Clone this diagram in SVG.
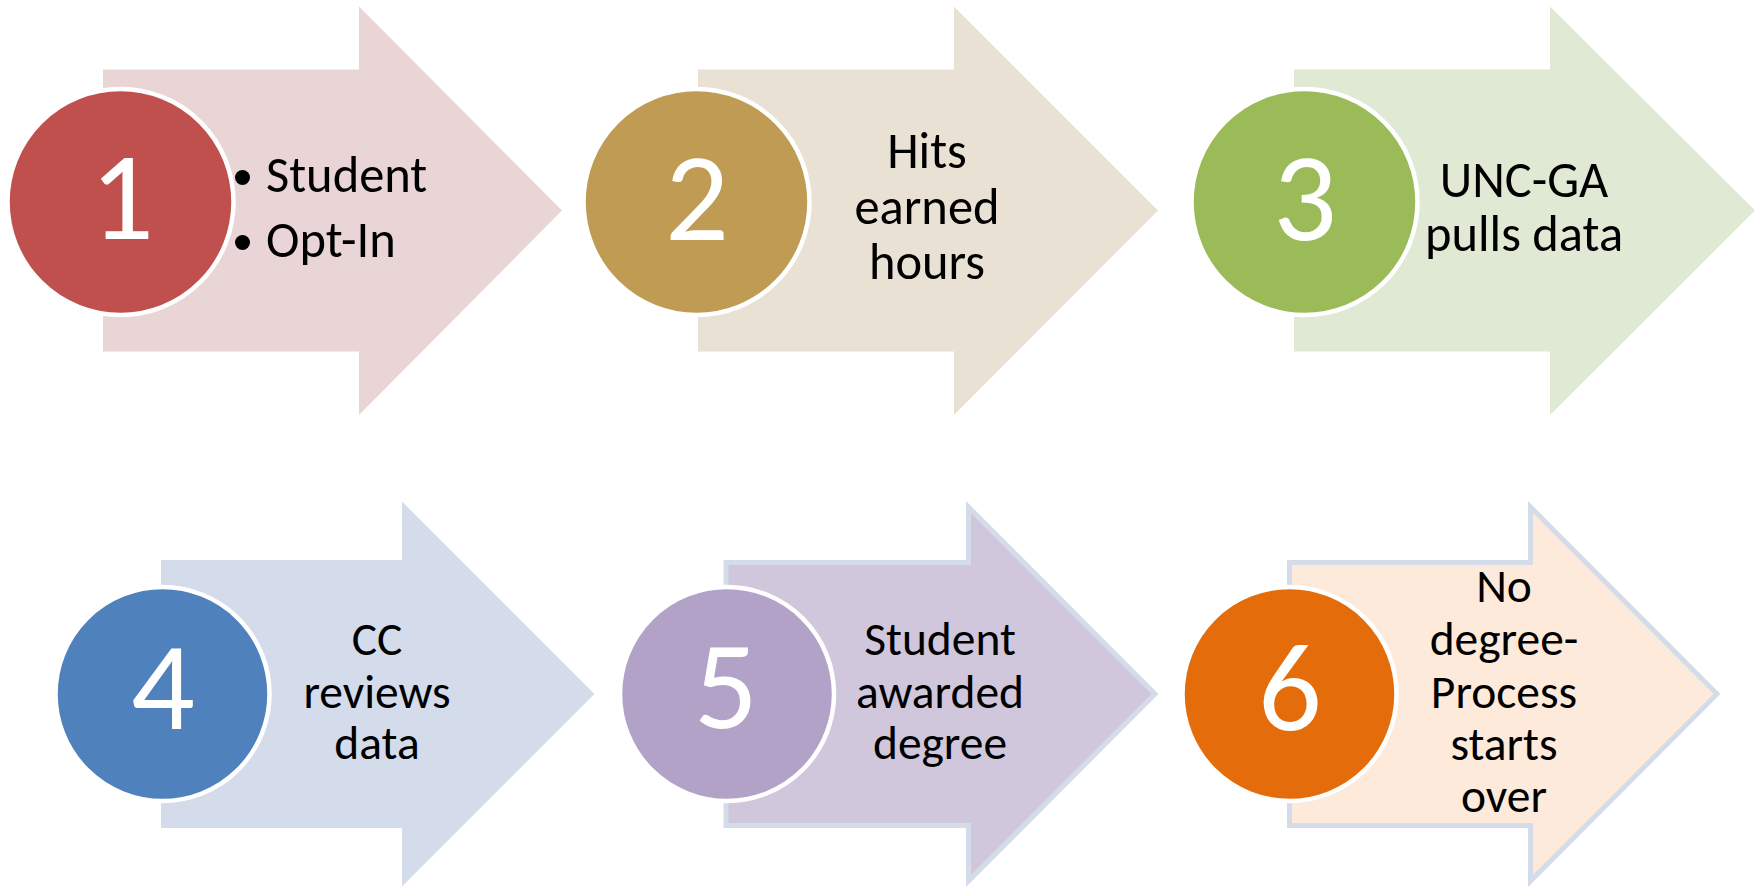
<svg xmlns="http://www.w3.org/2000/svg" width="1758" height="886" viewBox="0 0 1758 886">
<style>
.t{font-family:Carlito,Lato,"Liberation Sans",sans-serif;fill:#000;}
.r1{font-size:50.5px;}
.r2{font-size:47.5px;}
.c{text-anchor:middle;}
.num{font-family:Carlito,Lato,"Liberation Sans",sans-serif;fill:#fff;font-size:126px;text-anchor:middle;}
.ring{stroke:#fff;stroke-width:4.5;}
.edge{stroke:#d4dcea;stroke-width:5;stroke-linejoin:miter;}
</style>
<rect width="1758" height="886" fill="#fff"/>
<g id="connectors"></g>
<g id="step1">
<path d="M103,69.5 H359 V6.5 L562,210.5 L359,415 V351.5 H103 Z" fill="#e9d5d6"/>
<circle cx="120.5" cy="202" r="113" fill="#c0504d" class="ring"/>
<text class="num" x="122" y="239">1</text>
<circle cx="242.5" cy="177.5" r="7.5" fill="#000"/>
<circle cx="242.5" cy="242.5" r="7.5" fill="#000"/>
<text class="t r1" x="266" y="192">Student</text>
<text class="t r1" x="266" y="257">Opt-In</text>
</g>
<g id="step2">
<path d="M698,69.5 H954 V6.5 L1158,210.5 L954,415 V351.5 H698 Z" fill="#e9e1d4"/>
<circle cx="696.5" cy="202" r="113" fill="#bf9b53" class="ring"/>
<text class="num" x="697" y="240">2</text>
<text class="t r1 c" x="927" y="168">Hits</text>
<text class="t r1 c" x="927" y="224">earned</text>
<text class="t r1 c" x="927" y="279">hours</text>
</g>
<g id="step3">
<path d="M1294,69.5 H1550 V6.5 L1755,210.5 L1550,415 V351.5 H1294 Z" fill="#e0e9d4"/>
<circle cx="1304.5" cy="202" r="113" fill="#9bbb59" class="ring"/>
<text class="num" x="1305" y="240">3</text>
<text class="t r1 c" x="1524" y="196.5">UNC-GA</text>
<text class="t r1 c" x="1524" y="251">pulls data</text>
</g>
<g id="step4">
<path d="M161,560 H402 V501.5 L594.5,694 L402,886.5 V828 H161 Z" fill="#d4dbea"/>
<circle cx="162.5" cy="694" r="107" fill="#4f81bd" class="ring"/>
<text class="num" x="163" y="729">4</text>
<text class="t r2 c" x="377" y="655">CC</text>
<text class="t r2 c" x="377" y="708">reviews</text>
<text class="t r2 c" x="377" y="759">data</text>
</g>
<g id="step5">
<path d="M726,562.5 H968.5 V507 L1155,694 L968.5,881 V825.5 H726 Z" fill="#d0c7dc" class="edge"/>
<circle cx="727" cy="694" r="107" fill="#b2a2c7" class="ring"/>
<text class="num" x="726" y="728">5</text>
<text class="t r2 c" x="940" y="655">Student</text>
<text class="t r2 c" x="940" y="708">awarded</text>
<text class="t r2 c" x="940" y="759">degree</text>
</g>
<g id="step6">
<path d="M1289.5,562.5 H1530.5 V507 L1717,694 L1530.5,881 V825.5 H1289.5 Z" fill="#fdeadb" class="edge"/>
<circle cx="1289.5" cy="694" r="107" fill="#e46c0a" class="ring"/>
<text class="num" x="1290" y="730">6</text>
<text class="t r2 c" x="1504" y="602">No</text>
<text class="t r2 c" x="1504" y="655">degree-</text>
<text class="t r2 c" x="1504" y="708">Process</text>
<text class="t r2 c" x="1504" y="760">starts</text>
<text class="t r2 c" x="1504" y="812">over</text>
</g>
</svg>
